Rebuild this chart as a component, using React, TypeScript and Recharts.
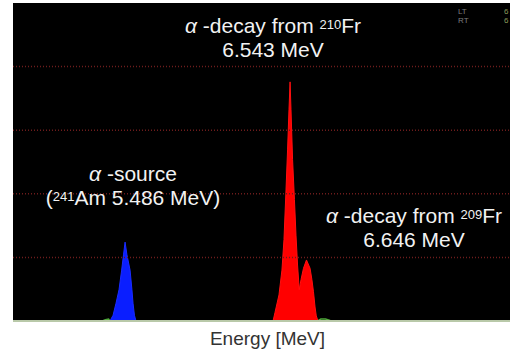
import React from 'react';
import {
  ComposedChart,
  Area,
  Line,
  XAxis,
  YAxis,
  ReferenceLine,
} from 'recharts';

// energies (MeV) and counts
const amEnergy = [5.389, 5.409, 5.428, 5.447, 5.464, 5.476, 5.486, 5.498, 5.518, 5.530, 5.537, 5.546, 5.556];
const amCounts = [0, 9, 28, 49, 80, 104, 124, 104, 80, 49, 28, 9, 0];

const frEnergy = [
  6.434, 6.446, 6.472, 6.491, 6.504, 6.517, 6.527, 6.536, 6.543, 6.549, 6.559, 6.571,
  6.581, 6.591, 6.602, 6.613, 6.629, 6.648, 6.671, 6.683, 6.693, 6.703, 6.711, 6.722,
];
const frCounts = [
  0, 13, 41, 80, 128, 206, 269, 332, 376, 332, 254, 191,
  135, 88, 49, 65, 83, 96, 83, 65, 46, 22, 8, 0,
];

// faint green background counts near the baseline
const bgEnergy = [5.34, 5.36, 5.38, 5.39, 6.72, 6.74, 6.77, 6.80, 6.82];
const bgCounts = [0, 2, 3, 0, 0, 3, 3, 1, 0];

const gridValues = [100, 200, 300, 400];

const amData = amEnergy.map((e, i) => ({ e, c: amCounts[i] }));
const frData = frEnergy.map((e, i) => ({ e, c: frCounts[i] }));
const bgData = bgEnergy.map((e, i) => ({ e, c: bgCounts[i] }));

const labelFont = '"Liberation Sans", Arial, sans-serif';

const Note = ({ left, top, children }: any) => (
  <div
    style={{
      position: 'absolute',
      left,
      top,
      transform: 'translateX(-50%)',
      color: '#f2f2f2',
      fontFamily: labelFont,
      fontSize: 21,
      lineHeight: '24px',
      textAlign: 'center',
      whiteSpace: 'nowrap',
    }}
  >
    {children}
  </div>
);

const sup = { fontSize: 13, verticalAlign: 'top', position: 'relative' as const, top: -1 };

export default function App() {
  return (
    <div style={{ position: 'absolute', left: 0, top: 0, width: 510, height: 356, background: '#fff', overflow: 'hidden' }}>
      <ComposedChart
        width={510}
        height={356}
        margin={{ top: 3, right: 0, left: 13, bottom: 0 }}
      >
        <rect x={13} y={3} width={497} height={318} fill="#000" />
        <XAxis
          dataKey="e"
          type="number"
          domain={[4.768, 7.952]}
          allowDataOverflow
          tick={false}
          tickLine={false}
          axisLine={{ stroke: '#b9c9a9', strokeWidth: 2 }}
          height={35}
          label={{ value: 'Energy [MeV]', position: 'insideBottom', offset: 11, dx: 6, fill: '#333', fontSize: 19, fontFamily: labelFont }}
        />
        <YAxis type="number" domain={[0, 500]} hide />
        {gridValues.map((v) => (
          <ReferenceLine key={v} y={v} stroke="#6e1c1c" strokeDasharray="1 2" strokeWidth={1.5} />
        ))}
        <Line
          data={bgData}
          dataKey="c"
          type="linear"
          stroke="#4fa83a"
          strokeWidth={1.5}
          dot={false}
          isAnimationActive={false}
        />
        <Area
          data={amData}
          dataKey="c"
          type="linear"
          stroke="#1a2cff"
          strokeWidth={1}
          fill="#0a1eff"
          fillOpacity={1}
          isAnimationActive={false}
        />
        <Area
          data={frData}
          dataKey="c"
          type="linear"
          stroke="#ff1010"
          strokeWidth={1}
          fill="#ff0000"
          fillOpacity={1}
          isAnimationActive={false}
        />
      </ComposedChart>

      <Note left={273} top={14}>
        <span style={{ fontStyle: 'italic' }}>α</span> -decay from <span style={sup}>210</span>Fr
        <br />
        6.543 MeV
      </Note>
      <Note left={133} top={162}>
        <span style={{ fontStyle: 'italic' }}>α</span> -source
        <br />
        (<span style={sup}>241</span>Am 5.486 MeV)
      </Note>
      <Note left={414} top={204}>
        <span style={{ fontStyle: 'italic' }}>α</span> -decay from <span style={sup}>209</span>Fr
        <br />
        6.646 MeV
      </Note>

      <div style={{ position: 'absolute', left: 458, top: 7, color: '#7d7d7d', fontFamily: labelFont, fontSize: 8, lineHeight: '9px' }}>
        LT<br />RT
      </div>
      <div style={{ position: 'absolute', left: 504, top: 7, color: '#8a9a5a', fontFamily: labelFont, fontSize: 8, lineHeight: '9px' }}>
        6<br />6
      </div>
    </div>
  );
}
